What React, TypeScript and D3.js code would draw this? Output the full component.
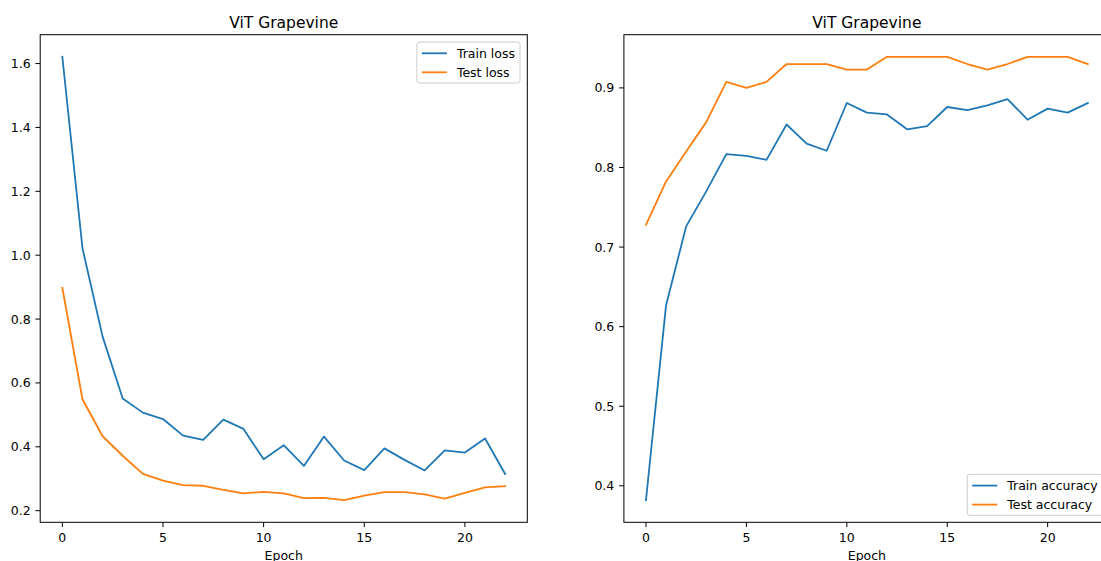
import React from 'react';
import * as d3 from 'd3';

const epochs = [0, 1, 2, 3, 4, 5, 6, 7, 8, 9, 10, 11, 12, 13, 14, 15, 16, 17, 18, 19, 20, 21, 22];
const trainLoss = [1.621, 1.022, 0.745, 0.551, 0.507, 0.487, 0.435, 0.422, 0.485, 0.456, 0.361, 0.405, 0.34, 0.432, 0.357, 0.327, 0.395, 0.359, 0.326, 0.389, 0.382, 0.426, 0.315];
const testLoss = [0.898, 0.549, 0.433, 0.372, 0.315, 0.294, 0.28, 0.278, 0.265, 0.254, 0.259, 0.254, 0.239, 0.24, 0.233, 0.247, 0.258, 0.258, 0.251, 0.238, 0.256, 0.273, 0.277];
const trainAcc = [0.382, 0.627, 0.726, 0.77, 0.8167, 0.8146, 0.8096, 0.854, 0.83, 0.821, 0.881, 0.869, 0.8667, 0.848, 0.852, 0.876, 0.872, 0.878, 0.886, 0.86, 0.874, 0.869, 0.881];
const testAcc = [0.728, 0.7825, 0.82, 0.857, 0.9075, 0.9, 0.9075, 0.93, 0.93, 0.93, 0.923, 0.923, 0.939, 0.939, 0.939, 0.939, 0.93, 0.923, 0.93, 0.939, 0.939, 0.939, 0.93];
const xTicks = [0, 5, 10, 15, 20];
const lossTicks = [0.2, 0.4, 0.6, 0.8, 1.0, 1.2, 1.4, 1.6];
const accTicks = [0.4, 0.5, 0.6, 0.7, 0.8, 0.9];
const titleText = 'ViT Grapevine';
const xLabel = 'Epoch';

const W = 1101;
const H = 561;
const TOP = 34.7;
const BOTTOM = 522.3;
const FONT = '"DejaVu Sans", Verdana, sans-serif';
const BLUE = '#1f77b4';
const ORANGE = '#ff7f0e';
const TICK_FS = 12.5;
const LEG_FS = 12.5;
const TITLE_FS = 15.5;

function measure(text: string, size: number): number {
  const c = document.createElement('canvas');
  const ctx = c.getContext('2d');
  if (!ctx) return text.length * size * 0.6;
  ctx.font = `${size}px "DejaVu Sans"`;
  return ctx.measureText(text).width;
}

type Series = { name: string; values: number[]; color: string };

function Panel({ x0, x1, series, yTicks, legendLoc, fmt }: { x0: number; x1: number; series: Series[]; yTicks: number[]; legendLoc: 'upper' | 'lower'; fmt: (v: number) => string }) {
  const x = d3.scaleLinear().domain([-1.1, 23.1]).range([x0, x1]);
  const all = series.flatMap((s) => s.values);
  const mn = d3.min(all) as number;
  const mx = d3.max(all) as number;
  const pad = (mx - mn) * 0.05;
  const y = d3.scaleLinear().domain([mn - pad, mx + pad]).range([BOTTOM, TOP]);
  const line = d3
    .line<number>()
    .x((_, i) => x(epochs[i]))
    .y((d) => y(d));

  const em = LEG_FS;
  const textW = Math.max(...series.map((s) => measure(s.name, LEG_FS)));
  const boxW = 0.4 * em + 2 * em + 0.8 * em + textW + 0.4 * em;
  const boxH = 41;
  const boxRight = x1 - 7.3;
  const boxLeft = boxRight - boxW;
  const boxTop = legendLoc === 'upper' ? TOP + 7.3 : BOTTOM - 7 - boxH;
  const cx = (x0 + x1) / 2;

  return (
    <g>
      {series.map((s) => (
        <path key={s.name} d={line(s.values) || ''} fill="none" stroke={s.color} strokeWidth={1.8} strokeLinejoin="round" strokeLinecap="square" />
      ))}
      <rect x={x0} y={TOP} width={x1 - x0} height={BOTTOM - TOP} fill="none" stroke="#000" strokeWidth={1} />
      {xTicks.map((t) => (
        <g key={t}>
          <line x1={x(t)} x2={x(t)} y1={BOTTOM} y2={BOTTOM + 4.8} stroke="#000" strokeWidth={1} />
          <text x={x(t)} y={541.5} textAnchor="middle" fontSize={TICK_FS} fontFamily={FONT} fill="#000">
            {t}
          </text>
        </g>
      ))}
      {yTicks.map((t) => (
        <g key={t}>
          <line x1={x0 - 4.8} x2={x0} y1={y(t)} y2={y(t)} stroke="#000" strokeWidth={1} />
          <text x={x0 - 9.6} y={y(t) + 4.5} textAnchor="end" fontSize={TICK_FS} fontFamily={FONT} fill="#000">
            {fmt(t)}
          </text>
        </g>
      ))}
      <text x={cx} y={28.3} textAnchor="middle" fontSize={TITLE_FS} fontFamily={FONT} fill="#000">
        {titleText}
      </text>
      <text x={cx} y={559.8} textAnchor="middle" fontSize={TICK_FS} fontFamily={FONT} fill="#000">
        {xLabel}
      </text>
      <g>
        <rect x={boxLeft} y={boxTop} width={boxW} height={boxH} rx={2.5} fill="#fff" fillOpacity={0.8} stroke="#cccccc" strokeWidth={1} />
        {series.map((s, i) => {
          const ry = boxTop + 11.3 + i * 19;
          return (
            <g key={s.name}>
              <line x1={boxLeft + 0.4 * em} x2={boxLeft + 2.4 * em} y1={ry} y2={ry} stroke={s.color} strokeWidth={1.8} />
              <text x={boxLeft + 3.2 * em} y={ry + 4.5} fontSize={LEG_FS} fontFamily={FONT} fill="#000">
                {s.name}
              </text>
            </g>
          );
        })}
      </g>
    </g>
  );
}

export default function App() {
  return (
    <svg width={W} height={H} style={{ position: 'absolute', left: 0, top: 0, background: '#fff' }}>
      <rect x={0} y={0} width={W} height={H} fill="#fff" />
      <Panel
        x0={40.2}
        x1={527.3}
        series={[
          { name: 'Train loss', values: trainLoss, color: BLUE },
          { name: 'Test loss', values: testLoss, color: ORANGE },
        ]}
        yTicks={lossTicks}
        legendLoc="upper"
        fmt={(v) => v.toFixed(1)}
      />
      <Panel
        x0={623.9}
        x1={1109.9}
        series={[
          { name: 'Train accuracy', values: trainAcc, color: BLUE },
          { name: 'Test accuracy', values: testAcc, color: ORANGE },
        ]}
        yTicks={accTicks}
        legendLoc="lower"
        fmt={(v) => v.toFixed(1)}
      />
    </svg>
  );
}
